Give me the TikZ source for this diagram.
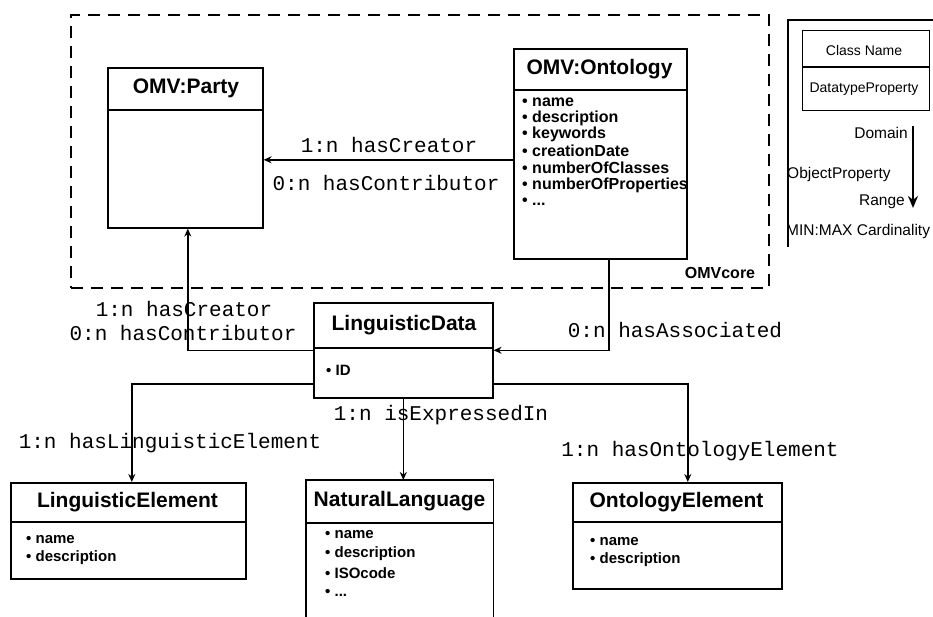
\documentclass[tikz,border=0pt]{standalone}
\usepackage{fontspec}
\setmainfont{Liberation Sans}
\newfontfamily\labfont{Liberation Mono}
\usetikzlibrary{arrows.meta}
\begin{document}
\begin{tikzpicture}[x=1pt,y=-1pt,
  box/.style={draw, line width=1.6pt, rectangle, inner sep=0pt, anchor=north west},
  boxline/.style={line width=1.6pt},
  cname/.style={font=\fontsize{21}{21}\selectfont\bfseries, inner sep=0pt},
  attr/.style={font=\fontsize{15}{15}\selectfont\bfseries, inner sep=0pt, anchor=west},
  oattr/.style={font=\fontsize{16}{16}\selectfont\bfseries, inner sep=0pt, anchor=west},
  lab/.style={font=\labfont\fontsize{21}{21}\selectfont, inner sep=0pt},
  legb/.style={font=\fontsize{14}{14}\selectfont, inner sep=0pt},
  leg/.style={font=\fontsize{15.5}{15.5}\selectfont, inner sep=0pt},
  arr/.style={draw, line width=1.5pt, -{Stealth[length=8pt,width=7pt]}},
  frame/.style={draw, line width=1.8pt, dash pattern=on 12pt off 8pt}
]
\useasboundingbox (0,0) rectangle (933,617);
\fill[white] (0,0) rectangle (933,617);

% OMVcore frame
\node[frame, rectangle, inner sep=0pt, anchor=north west, minimum width=698pt, minimum height=273pt] (core) at (70,14) {};
\node[font=\fontsize{16}{16}\selectfont\bfseries, inner sep=0pt] (corelab) at (720,273) {OMVcore};

% OMV:Party
\node[box, minimum width=155pt, minimum height=160pt] (party) at (107,67) {};
\draw[boxline] ([yshift=-43pt]party.north west) -- ([yshift=-43pt]party.north east);
\node[cname] (partyt) at (186,88.5) {OMV:Party};

% OMV:Ontology
\node[box, minimum width=173pt, minimum height=210pt] (onto) at (513,48) {};
\draw[boxline] ([yshift=-42pt]onto.north west) -- ([yshift=-42pt]onto.north east);
\node[cname] (ontot) at (599.5,69) {OMV:Ontology};
\node[oattr] (o1) at (522,102) {• name};
\node[oattr] (o2) at (522,118) {• description};
\node[oattr] (o3) at (522,134) {• keywords};
\node[oattr] (o4) at (522,151) {• creationDate};
\node[oattr] (o5) at (522,168) {• numberOfClasses};
\node[oattr] (o6) at (522,185) {• numberOfProperties};
\node[oattr] (o7) at (522,202) {• ...};

% LinguisticData
\node[box, minimum width=179pt, minimum height=95pt] (ld) at (313,302) {};
\draw[boxline] ([yshift=-46pt]ld.north west) -- ([yshift=-46pt]ld.north east);
\node[cname] (ldt) at (404,325) {LinguisticData};
\node[attr] (ld1) at (326,370) {• ID};

% LinguisticElement
\node[box, minimum width=235pt, minimum height=96pt] (le) at (10,482) {};
\draw[boxline] ([yshift=-40pt]le.north west) -- ([yshift=-40pt]le.north east);
\node[cname] (let) at (127.5,502) {LinguisticElement};
\node[attr] (le1) at (26,540) {• name};
\node[attr] (le2) at (26,558) {• description};

% NaturalLanguage (open at bottom)
\node[inner sep=0pt, anchor=north west, minimum width=187pt, minimum height=140pt] (nl) at (306,480) {};
\draw[boxline] (nl.south west) -- (nl.north west) -- (nl.north east) -- (nl.south east);
\draw[boxline] ([yshift=-43pt]nl.north west) -- ([yshift=-43pt]nl.north east);
\node[cname] (nlt) at (399.5,501.5) {NaturalLanguage};
\node[attr] (nl1) at (325,535) {• name};
\node[attr] (nl2) at (325,554) {• description};
\node[attr] (nl3) at (325,573) {• ISOcode};
\node[attr] (nl4) at (325,593) {• ...};

% OntologyElement
\node[box, minimum width=209pt, minimum height=106pt] (oe) at (572,482) {};
\draw[boxline] ([yshift=-40pt]oe.north west) -- ([yshift=-40pt]oe.north east);
\node[cname] (oet) at (676.5,502) {OntologyElement};
\node[attr] (oe1) at (590,542) {• name};
\node[attr] (oe2) at (590,560) {• description};

% connectors
\draw[arr] ([yshift=-6pt]onto.west) -- ([yshift=-6pt]onto.west -| party.east);
\draw[arr] (ld.west) -| ([xshift=2.5pt]party.south);
\draw[arr] ([xshift=8.5pt]onto.south) |- (ld.east);
\draw[arr] ([yshift=-33.5pt]ld.west) -| ([xshift=3.5pt]le.north);
\draw[arr] (ld.south) -- (ld.south |- nl.north);
\draw[arr] ([yshift=-33.5pt]ld.east) -| ([xshift=10.5pt]oe.north);

% connector labels
\node[lab] (l1) at (389,145) {1:n hasCreator};
\node[lab] (l2) at (386,183) {0:n hasContributor};
\node[lab] (l3) at (184,309) {1:n hasCreator};
\node[lab] (l4) at (183,333) {0:n hasContributor};
\node[lab] (l5) at (675,330) {0:n hasAssociated};
\node[lab] (l6) at (441,415) {1:n isExpressedIn};
\node[lab] (l7) at (170,443) {1:n hasLinguisticElement};
\node[lab] (l8) at (700,451) {1:n hasOntologyElement};

% legend
\draw[line width=1.4pt] (933,20) -- (788,20) -- (788,247);
\node[box, line width=1.4pt, minimum width=127pt, minimum height=80pt] (lgbox) at (802,30) {};
\draw[line width=1.4pt] ([yshift=-37pt]lgbox.north west) -- ([yshift=-37pt]lgbox.north east);
\node[legb] (lgc) at (864,51) {Class Name};
\node[legb] (lgd) at (864,89) {DatatypeProperty};
\coordinate (lgs) at (913,126);
\coordinate (lge) at (913,208);
\draw[line width=2.4pt, -{Stealth[length=12pt,width=10pt]}] (lgs) -- (lge);
\node[leg, anchor=east] (lgdom) at (908,133) {Domain};
\node[leg, anchor=west] (lgop) at (787,174) {ObjectProperty};
\node[leg, anchor=east] (lgran) at (905,202) {Range};
\node[leg, anchor=west] (lgmm) at (786,231) {MIN:MAX Cardinality};
\end{tikzpicture}
\end{document}
